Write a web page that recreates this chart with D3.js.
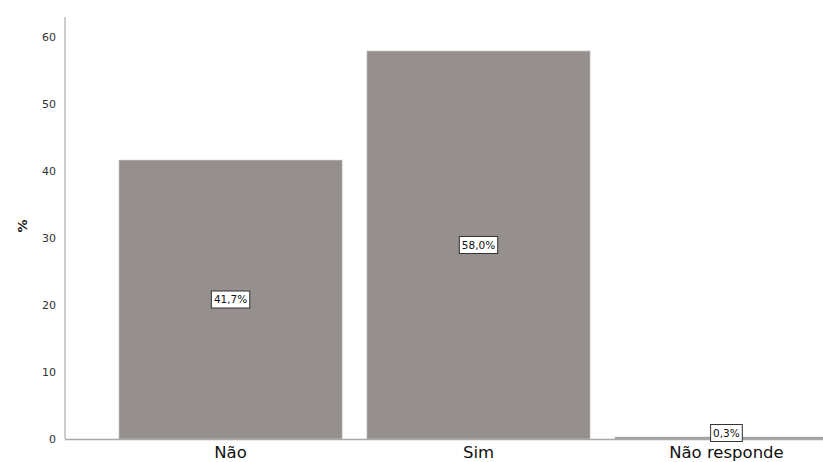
<!DOCTYPE html>
<html><head><meta charset="utf-8">
<script src="https://cdn.jsdelivr.net/npm/d3@7"></script>
<style>body{margin:0;background:#fff}svg{display:block}</style>
</head><body>
<svg id="c" width="823" height="462"></svg>
<script>
const categories = ["Não", "Sim", "Não responde"];
const values = [41.7, 58.0, 0.3];
const valueLabels = ["41,7%", "58,0%", "0,3%"];
const yTicks = [0, 10, 20, 30, 40, 50, 60];
const yTitle = "%";

const svg = d3.select("#c");
const W = 823, H = 462;
const axisX = 65, y0 = 439;
const font = "'DejaVu Sans', 'Liberation Sans', sans-serif";

const y = d3.scaleLinear().domain([0, 60]).range([y0, 37.6]);
const x = d3.scaleBand().domain(categories).range([axisX, 892]).paddingInner(0.1).paddingOuter(0.2177);

// y axis line
svg.append("line").attr("x1", axisX).attr("x2", axisX).attr("y1", 17).attr("y2", y0)
  .attr("stroke", "#9a9a9a").attr("stroke-width", 1);

// tick labels
svg.selectAll(".yt").data(yTicks).enter().append("text")
  .attr("x", axisX - 9).attr("y", d => y(d)).attr("dy", "0.35em")
  .attr("text-anchor", "end").attr("font-family", font).attr("font-size", 11)
  .attr("fill", "#333").text(d => d);

// y title
svg.append("text").attr("transform", "translate(22,226) rotate(-90)")
  .attr("text-anchor", "middle").attr("dy", "0.35em").attr("font-family", font)
  .attr("font-weight", "bold").attr("font-size", 13).attr("fill", "#111").text(yTitle);

// bars
svg.selectAll(".bar").data(values).enter().append("rect")
  .attr("x", (d, i) => x(categories[i])).attr("width", x.bandwidth())
  .attr("y", d => y(d)).attr("height", d => y0 - y(d))
  .attr("fill", "#958f8d").attr("stroke", "#d0cdcc").attr("stroke-width", 0.6);

// x axis line
svg.append("line").attr("x1", axisX).attr("x2", W).attr("y1", y0 + 0.5).attr("y2", y0 + 0.5)
  .attr("stroke", "#a8a8a8").attr("stroke-width", 1.5);

// value labels
const lab = svg.selectAll(".lab").data(values).enter().append("g")
  .attr("transform", (d, i) => {
    const cx = x(categories[i]) + x.bandwidth() / 2;
    const cy = Math.min((y(d) + y0) / 2, y0 - 6);
    return `translate(${cx},${cy})`;
  });
const box = lab.append("rect").attr("fill", "#fff").attr("stroke", "#333").attr("stroke-width", 1);
const txt = lab.append("text").attr("text-anchor", "middle").attr("dy", "0.35em")
  .attr("font-family", font).attr("font-size", 10.5).attr("fill", "#111")
  .text((d, i) => valueLabels[i]);
txt.each(function(d, i) {
  const w = this.getComputedTextLength() + 5;
  d3.select(this.parentNode).select("rect")
    .attr("x", -w / 2).attr("y", -8.5).attr("width", w).attr("height", 17);
});

// category labels
svg.selectAll(".cat").data(categories).enter().append("text")
  .attr("x", d => x(d) + x.bandwidth() / 2).attr("y", 458)
  .attr("text-anchor", "middle").attr("font-family", font).attr("font-size", 16.5)
  .attr("fill", "#111").text(d => d);
</script>
</body></html>
